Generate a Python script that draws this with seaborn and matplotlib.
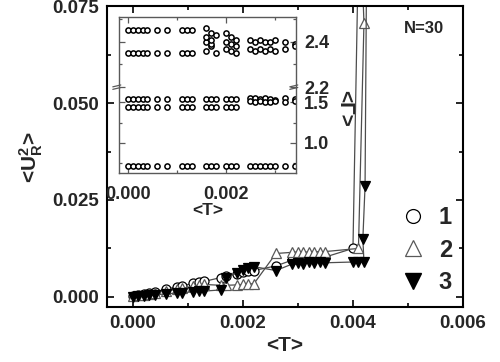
import matplotlib
matplotlib.use("Agg")
import matplotlib.pyplot as plt
from matplotlib.lines import Line2D
from matplotlib.ticker import MultipleLocator, FormatStrFormatter, FixedLocator, FixedFormatter
import numpy as np
import pandas as pd
import seaborn as sns

# ---- main panel data: <U_R^2> vs <T> for three runs ----
t1 = [0.0000, 0.0001, 0.0002, 0.0003, 0.0004, 0.0006, 0.0008, 0.0009, 0.0011, 0.0012,
      0.0013, 0.0016, 0.0017, 0.0019, 0.0020, 0.0021, 0.0022, 0.0026, 0.0029, 0.0030,
      0.0031, 0.0032, 0.0033, 0.0034, 0.0035, 0.0040, 0.0041]
u1 = [0.0002, 0.0004, 0.0007, 0.0010, 0.0013, 0.0020, 0.0026, 0.0028, 0.0036, 0.0038,
      0.0040, 0.0050, 0.0055, 0.0060, 0.0063, 0.0066, 0.0068, 0.0080, 0.0095, 0.0097,
      0.0098, 0.0100, 0.0101, 0.0102, 0.0103, 0.0125, 0.0900]

t2 = [0.0000, 0.0001, 0.0002, 0.0003, 0.0004, 0.0006, 0.0008, 0.0009, 0.0011, 0.0012,
      0.0013, 0.0016, 0.0017, 0.0019, 0.0020, 0.0021, 0.0022, 0.0026, 0.0029, 0.0030,
      0.0031, 0.0032, 0.0033, 0.0034, 0.0035, 0.0041, 0.0042, 0.00415]
u2 = [0.0002, 0.0004, 0.0006, 0.0008, 0.0011, 0.0015, 0.0020, 0.0022, 0.0028, 0.0030,
      0.0032, 0.0030, 0.0030, 0.0031, 0.0032, 0.0033, 0.0034, 0.0112, 0.0115, 0.0116,
      0.0115, 0.0116, 0.0117, 0.0116, 0.0117, 0.0125, 0.0707, 0.0900]

t3 = [0.0000, 0.0001, 0.0002, 0.0003, 0.0004, 0.0006, 0.0008, 0.0009, 0.0011, 0.0012,
      0.0013, 0.0016, 0.0017, 0.0019, 0.0020, 0.0021, 0.0022, 0.0026, 0.0029, 0.0030,
      0.0031, 0.0032, 0.0033, 0.0034, 0.0035, 0.0040, 0.0041, 0.0042, 0.00418, 0.00422,
      0.00425]
u3 = [0.0000, 0.0002, 0.0003, 0.0004, 0.0005, 0.0008, 0.0010, 0.0011, 0.0013, 0.0014,
      0.0015, 0.0018, 0.0050, 0.0062, 0.0070, 0.0075, 0.0078, 0.0068, 0.0085, 0.0088,
      0.0086, 0.0089, 0.0087, 0.0090, 0.0088, 0.0090, 0.0090, 0.0090, 0.0150, 0.0286,
      0.0900]

# ---- inset data: <Gamma> vs <T> (broken axis between 1.7 and 2.2) ----
ins_t = [0.0000, 0.0001, 0.0002, 0.0003, 0.0004, 0.0006, 0.0008, 0.0011, 0.0012, 0.0013,
         0.0016, 0.0017, 0.0018, 0.0020, 0.0021, 0.0022, 0.0025, 0.0026, 0.0027, 0.0028,
         0.0029, 0.0030, 0.0032, 0.0034]
lam_a = [2.45, 2.45, 2.45, 2.45, 2.45, 2.45, 2.45, 2.45, 2.45, 2.45,
         2.46, 2.44, 2.43, 2.44, 2.42, 2.41, 2.41, 2.40, 2.41, 2.40,
         2.40, 2.41, 2.40, 2.39]
lam_b = [2.35, 2.35, 2.35, 2.35, 2.35, 2.35, 2.35, 2.35, 2.35, 2.35,
         2.36, 2.38, 2.35, 2.37, 2.36, 2.35, 2.37, 2.36, 2.37, 2.36,
         2.37, 2.36, 2.37, 2.38]
lam_c = [1.54, 1.54, 1.54, 1.54, 1.54, 1.54, 1.54, 1.54, 1.54, 1.54,
         1.54, 1.54, 1.54, 1.54, 1.54, 1.54, 1.56, 1.55, 1.54, 1.55,
         1.54, 1.53, 1.55, 1.54]
lam_d = [1.45, 1.45, 1.45, 1.45, 1.45, 1.45, 1.45, 1.45, 1.45, 1.45,
         1.45, 1.45, 1.45, 1.45, 1.45, 1.45, 1.52, 1.51, 1.52, 1.50,
         1.51, 1.52, 1.51, 1.52]
lam_e = [0.71] * 24
spread_t = [0.0016, 0.0016, 0.0017, 0.0017, 0.0020, 0.0021, 0.0022]
spread_v = [2.40, 2.42, 2.39, 2.41, 2.40, 2.39, 2.38]

ins_major = [1.0, 1.5, 2.2, 2.4]
ins_minor = [0.75, 1.25, 2.3, 2.5]


def brk(v):
    # collapse the gap 1.7 .. 2.2 of the inset axis; upper part is stretched
    v = np.asarray(v, dtype=float)
    return np.where(v < 1.9, v - 1.0, 0.69 + (v - 2.2) * 2.8125)


sns.set_theme(style="ticks")
plt.rcParams["font.family"] = ["Liberation Sans", "DejaVu Sans"]
plt.rcParams["font.weight"] = "bold"
plt.rcParams["axes.labelweight"] = "bold"
plt.rcParams["mathtext.fontset"] = "custom"
plt.rcParams["mathtext.bf"] = "Liberation Sans:bold"
plt.rcParams["mathtext.rm"] = "Liberation Sans:bold"
plt.rcParams["mathtext.default"] = "bf"

fig = plt.figure(figsize=(5, 3.62), dpi=100)
ax = fig.add_axes([0.214, 0.152, 0.712, 0.831])

lc = "0.3"
styles = [
    (t1, u1, dict(marker="o", markerfacecolor="white", markeredgecolor="black", markersize=6.5)),
    (t2, u2, dict(marker="^", markerfacecolor="white", markeredgecolor="0.35", markersize=7.5)),
    (t3, u3, dict(marker="v", markerfacecolor="black", markeredgecolor="black", markersize=7.5)),
]
for t, u, kw in styles:
    sns.lineplot(x=t, y=u, sort=False, estimator=None, color=lc, lw=0.9,
                 markeredgewidth=0.9, ax=ax, **kw)

ax.set_xlim(-0.00047, 0.0060)
ax.set_ylim(-0.0026, 0.075)
ax.xaxis.set_major_locator(MultipleLocator(0.002))
ax.xaxis.set_minor_locator(MultipleLocator(0.001))
ax.yaxis.set_major_locator(MultipleLocator(0.025))
ax.yaxis.set_minor_locator(MultipleLocator(0.0125))
ax.xaxis.set_major_formatter(FormatStrFormatter("%.3f"))
ax.yaxis.set_major_formatter(FormatStrFormatter("%.3f"))
ax.tick_params(which="both", direction="in", top=True, right=True, width=1.2,
               labelsize=13.5, color="black")
ax.tick_params(which="major", length=5, pad=6)
ax.tick_params(which="minor", length=3)
for s in ax.spines.values():
    s.set_linewidth(1.5)
    s.set_color("black")
ax.set_xlabel("<T>", fontsize=15, labelpad=3)
ax.set_ylabel(r"<U$_R^2$>", fontsize=15, labelpad=5)

ax.text(0.89, 0.925, "N=30", transform=ax.transAxes, ha="center", va="center",
        fontsize=12)

handles = [
    Line2D([], [], ls="none", marker="o", ms=10, mfc="white", mec="black", mew=0.9),
    Line2D([], [], ls="none", marker="^", ms=12, mfc="white", mec="0.35", mew=0.9),
    Line2D([], [], ls="none", marker="v", ms=12, mfc="black", mec="black"),
]
ax.legend(handles, ["1", "2", "3"], loc="center left", bbox_to_anchor=(0.826, 0.189),
          frameon=False, borderpad=0, borderaxespad=0, handlelength=1.0,
          handletextpad=0.6, labelspacing=0.4, prop={"size": 17, "weight": "bold"})

# ---- inset ----
axi = fig.add_axes([0.238, 0.522, 0.354, 0.431])
axi.set_facecolor("white")
inset = pd.DataFrame({
    "t": ins_t * 5 + spread_t,
    "v": lam_a + lam_b + lam_c + lam_d + lam_e + spread_v,
})
inset["h"] = brk(inset["v"])
sns.scatterplot(data=inset, x="t", y="h", marker="o", s=14, facecolor="white",
                edgecolor="black", linewidth=1.1, ax=axi, legend=False)

axi.set_xlim(-0.00018, 0.00343)
axi.set_ylim(-0.375, 1.56)
axi.xaxis.set_major_locator(MultipleLocator(0.002))
axi.xaxis.set_minor_locator(MultipleLocator(0.001))
axi.xaxis.set_major_formatter(FormatStrFormatter("%.3f"))
axi.yaxis.set_major_locator(FixedLocator(brk(ins_major)))
axi.yaxis.set_major_formatter(FixedFormatter([f"{v:.1f}" for v in ins_major]))
axi.yaxis.set_minor_locator(FixedLocator(brk(ins_minor)))
axi.tick_params(which="both", direction="in", top=True, bottom=True, left=True,
                right=True, labelleft=False, labelright=True, color="0.35",
                width=0.9, labelsize=13)
axi.tick_params(which="major", length=4)
axi.tick_params(which="minor", length=2.5)
axi.tick_params(axis="x", pad=9)
axi.tick_params(axis="y", pad=6)
for s in axi.spines.values():
    s.set_linewidth(1.0)
    s.set_color("0.35")
axi.set_xlabel("<T>", fontsize=12.5, labelpad=0)
axi.set_ylabel("")

# break marks on both spines
hb = brk([2.2])[0]
yb = (hb + 0.375) / (1.56 + 0.375)
for x0 in (0.0, 1.0):
    for dy in (-0.008, 0.008):
        axi.plot([x0 - 0.035, x0 + 0.01], [yb + dy - 0.006, yb + dy + 0.006],
                 transform=axi.transAxes, color="0.35", lw=0.9, clip_on=False)

fig.text(0.69, 1 - 108 / 362, "<Γ>", rotation=270, ha="center", va="center",
         fontsize=15)

fig.savefig("out.png", dpi=100)
